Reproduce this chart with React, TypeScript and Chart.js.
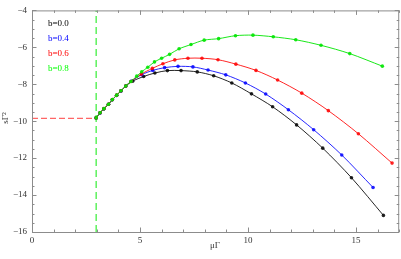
import React, { useEffect, useRef } from "react";
import { Chart, registerables } from "chart.js";
Chart.register(...registerables);

// ---- data ----
const xB = [2.97, 3.15, 3.33, 3.54, 3.72, 3.92, 4.12, 4.34, 4.66, 5.17, 5.69, 6.27, 6.9, 7.65, 8.41, 9.25, 10.16, 11.14, 12.25, 13.46, 14.79, 16.27];
const yB = [-9.82, -9.55, -9.33, -9.08, -8.84, -8.6, -8.36, -8.1, -7.83, -7.58, -7.39, -7.26, -7.26, -7.33, -7.54, -7.93, -8.52, -9.22, -10.2, -11.46, -13.06, -15.1];
const xBl = [2.97, 3.15, 3.33, 3.54, 3.72, 3.92, 4.12, 4.34, 4.59, 5.08, 5.59, 6.14, 6.76, 7.45, 8.15, 8.97, 9.88, 10.82, 11.87, 13.04, 14.34, 15.79];
const yBl = [-9.82, -9.55, -9.33, -9.08, -8.84, -8.6, -8.36, -8.09, -7.84, -7.48, -7.25, -7.1, -7.03, -7.06, -7.23, -7.49, -7.93, -8.53, -9.38, -10.46, -11.83, -13.59];
const xR = [2.97, 3.15, 3.33, 3.54, 3.72, 3.92, 4.12, 4.34, 4.58, 5.06, 5.57, 6.06, 6.61, 7.22, 7.87, 8.61, 9.44, 10.37, 11.37, 12.49, 13.72, 15.11, 16.67];
const yR = [-9.82, -9.54, -9.32, -9.08, -8.83, -8.59, -8.35, -8.09, -7.85, -7.45, -7.14, -6.89, -6.68, -6.59, -6.59, -6.67, -6.91, -7.25, -7.77, -8.48, -9.43, -10.68, -12.27];
const xG = [2.97, 3.15, 3.33, 3.54, 3.72, 3.92, 4.12, 4.34, 4.58, 4.85, 5.08, 5.36, 5.67, 6.0, 6.37, 6.81, 7.36, 7.97, 8.64, 9.42, 10.23, 11.17, 12.21, 13.38, 14.71, 16.22];
const yG = [-9.82, -9.54, -9.32, -9.08, -8.83, -8.59, -8.35, -8.09, -7.85, -7.56, -7.32, -7.08, -6.79, -6.59, -6.38, -6.08, -5.85, -5.61, -5.53, -5.37, -5.34, -5.43, -5.59, -5.89, -6.34, -7.02];
const seriesLabels = ["b=0.0", "b=0.4", "b=0.6", "b=0.8"];
const seriesColors = ["#000000", "#0000ff", "#ff0000", "#00ff00"];
const vLineX = [2.97, 2.97];
const vLineY = [-16, -4];
const hLineX = [0, 2.97];
const hLineY = [-9.85, -9.85];
const xTicks = [0, 5, 10, 15];
const yTicks = [-16, -14, -12, -10, -8, -6, -4];
const X_MIN = 0, X_MAX = 17, Y_MIN = -16, Y_MAX = -4;

const pts = (xs: number[], ys: number[]) => xs.map((x, i) => ({ x, y: ys[i] }));
const SERIF = "'Liberation Serif', 'DejaVu Serif', serif";

const framePlugin = {
  id: "frame",
  afterDraw(chart: any) {
    const { ctx, chartArea: a, scales } = chart;
    const xs = scales.x, ys = scales.y;
    ctx.save();
    ctx.strokeStyle = "#8c8c8c";
    ctx.lineWidth = 1;
    ctx.strokeRect(a.left + 0.5, a.top + 0.5, a.right - a.left - 1, a.bottom - a.top);
    ctx.beginPath();
    for (let v = X_MIN; v <= X_MAX; v += 1) {
      const px = Math.round(xs.getPixelForValue(v)) + 0.5;
      const len = v % 5 === 0 ? 4.5 : 2.5;
      ctx.moveTo(px, a.bottom); ctx.lineTo(px, a.bottom - len);
      ctx.moveTo(px, a.top); ctx.lineTo(px, a.top + len);
    }
    for (let v = Y_MIN; v <= Y_MAX + 1e-9; v += 0.5) {
      const py = Math.round(ys.getPixelForValue(v)) + 0.5;
      const len = Math.abs(v % 2) < 1e-9 ? 4.5 : 2.5;
      ctx.moveTo(a.left, py); ctx.lineTo(a.left + len, py);
      ctx.moveTo(a.right, py); ctx.lineTo(a.right - len, py);
    }
    ctx.stroke();
    // legend texts
    ctx.font = "9px " + SERIF;
    ctx.textBaseline = "middle";
    ctx.textAlign = "left";
    seriesLabels.forEach((t, i) => {
      ctx.fillStyle = seriesColors[i];
      ctx.fillText(t, 48, 24 + i * 15);
    });
    // axis titles
    ctx.fillStyle = "#333";
    ctx.font = "9px " + SERIF;
    ctx.textAlign = "center";
    ctx.fillText("μΓ", 215, 246);
    ctx.save();
    ctx.translate(6, 118);
    ctx.rotate(-Math.PI / 2);
    ctx.fillText("sΓ²", 0, 0);
    ctx.restore();
    ctx.restore();
  },
};

export default function App() {
  const ref = useRef<HTMLCanvasElement>(null);
  useEffect(() => {
    document.body.style.margin = "0";
    const lineDs = (label: string, xs: number[], ys: number[], color: string) => ({
      label,
      data: pts(xs, ys),
      showLine: true,
      borderColor: color,
      backgroundColor: color,
      borderWidth: 1,
      pointRadius: 1.8,
      pointBorderWidth: 0,
      pointHoverRadius: 0,
      tension: 0.3,
    });
    // Chart.js draws lower-index datasets on top: green first.
    const chart = new Chart(ref.current!, {
      type: "scatter",
      data: {
        datasets: [
          lineDs(seriesLabels[3], xG, yG, "rgba(0,230,0,0.9)"),
          lineDs(seriesLabels[2], xR, yR, "rgba(255,0,0,0.85)"),
          lineDs(seriesLabels[1], xBl, yBl, "rgba(0,0,255,0.85)"),
          lineDs(seriesLabels[0], xB, yB, "rgba(0,0,0,0.85)"),
          {
            label: "v",
            data: pts(vLineX, vLineY),
            showLine: true,
            borderColor: "#33ee33",
            borderWidth: 1.2,
            borderDash: [7, 4],
            pointRadius: 0,
          },
          {
            label: "h",
            data: pts(hLineX, hLineY),
            showLine: true,
            borderColor: "#ff6666",
            borderWidth: 1.2,
            borderDash: [6, 3],
            pointRadius: 0,
          },
        ] as any,
      },
      options: {
        animation: false,
        responsive: false,
        events: [],
        layout: { padding: { left: 0, right: 1, top: 5, bottom: 0 } },
        plugins: { legend: { display: false }, tooltip: { enabled: false } },
        scales: {
          x: {
            type: "linear",
            min: X_MIN,
            max: X_MAX,
            grid: { display: false, drawTicks: false },
            border: { display: false },
            afterBuildTicks: (s: any) => { s.ticks = xTicks.map((v) => ({ value: v })); },
            afterFit: (s: any) => { s.height = 27; },
            ticks: { padding: 3, color: "#333", font: { family: SERIF, size: 9 }, maxRotation: 0 },
          },
          y: {
            type: "linear",
            min: Y_MIN,
            max: Y_MAX,
            grid: { display: false, drawTicks: false },
            border: { display: false },
            afterBuildTicks: (s: any) => { s.ticks = yTicks.map((v) => ({ value: v })); },
            afterFit: (s: any) => { s.width = 32; },
            ticks: {
              padding: 5,
              color: "#333",
              font: { family: SERIF, size: 9 },
              callback: (v: any) => (v < 0 ? "\u2212" + Math.abs(v) : String(v)),
            },
          },
        },
      },
      plugins: [framePlugin],
    });
    return () => chart.destroy();
  }, []);
  return <canvas ref={ref} width={401} height={259} style={{ display: "block" }} />;
}
